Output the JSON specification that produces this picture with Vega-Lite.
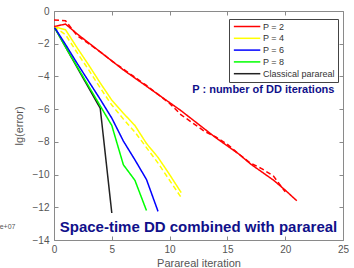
{
  "$schema": "https://vega.github.io/schema/vega-lite/v6.json",
  "width": 289,
  "height": 229,
  "autosize": "none",
  "padding": {"left": 54, "top": 11, "right": 11, "bottom": 28},
  "background": "white",
  "config": {
    "font": "Liberation Sans",
    "view": {"stroke": null},
    "axis": {
      "domainColor": "#8a8a8a",
      "tickColor": "#8a8a8a",
      "labelColor": "#555555",
      "titleColor": "#555555",
      "labelFontSize": 10,
      "titleFontSize": 11,
      "titleFontWeight": "normal",
      "grid": false,
      "tickSize": -4,
      "labelFlush": false,
      "labelOverlap": false
    }
  },
  "resolve": {"axis": {"x": "independent", "y": "independent"}},
  "layer": [
    {
      "data": {
        "values": [
          {"series": "P = 2", "style": "dashed", "x": 0, "y": -0.55},
          {"series": "P = 2", "style": "dashed", "x": 1, "y": -0.6},
          {"series": "P = 2", "style": "dashed", "x": 2, "y": -1.5},
          {"series": "P = 2", "style": "dashed", "x": 3, "y": -2.0},
          {"series": "P = 2", "style": "dashed", "x": 4, "y": -2.5},
          {"series": "P = 2", "style": "dashed", "x": 5, "y": -3.05},
          {"series": "P = 2", "style": "dashed", "x": 6, "y": -3.55},
          {"series": "P = 2", "style": "dashed", "x": 7, "y": -4.05},
          {"series": "P = 2", "style": "dashed", "x": 8, "y": -4.55},
          {"series": "P = 2", "style": "dashed", "x": 9, "y": -5.1},
          {"series": "P = 2", "style": "dashed", "x": 10, "y": -5.65},
          {"series": "P = 2", "style": "dashed", "x": 11, "y": -6.35},
          {"series": "P = 2", "style": "dashed", "x": 12, "y": -6.85},
          {"series": "P = 2", "style": "dashed", "x": 13, "y": -7.35},
          {"series": "P = 2", "style": "dashed", "x": 14, "y": -7.7},
          {"series": "P = 2", "style": "dashed", "x": 15, "y": -8.15},
          {"series": "P = 2", "style": "dashed", "x": 16, "y": -8.75},
          {"series": "P = 2", "style": "dashed", "x": 17, "y": -9.3},
          {"series": "P = 2", "style": "dashed", "x": 18, "y": -9.65},
          {"series": "P = 2", "style": "dashed", "x": 19, "y": -10.1},
          {"series": "P = 2", "style": "dashed", "x": 20, "y": -11.05},
          {"series": "P = 4", "style": "dashed", "x": 0, "y": -0.95},
          {"series": "P = 4", "style": "dashed", "x": 1, "y": -1.45},
          {"series": "P = 4", "style": "dashed", "x": 2, "y": -2.55},
          {"series": "P = 4", "style": "dashed", "x": 3, "y": -3.6},
          {"series": "P = 4", "style": "dashed", "x": 4, "y": -4.7},
          {"series": "P = 4", "style": "dashed", "x": 5, "y": -5.75},
          {"series": "P = 4", "style": "dashed", "x": 6, "y": -6.6},
          {"series": "P = 4", "style": "dashed", "x": 7, "y": -7.4},
          {"series": "P = 4", "style": "dashed", "x": 8, "y": -8.35},
          {"series": "P = 4", "style": "dashed", "x": 9, "y": -9.3},
          {"series": "P = 4", "style": "dashed", "x": 10, "y": -10.35},
          {"series": "P = 4", "style": "dashed", "x": 11, "y": -11.4},
          {"series": "Classical parareal", "style": "solid", "x": 0, "y": -0.95},
          {"series": "Classical parareal", "style": "solid", "x": 1, "y": -2.2},
          {"series": "Classical parareal", "style": "solid", "x": 2, "y": -3.45},
          {"series": "Classical parareal", "style": "solid", "x": 3, "y": -4.7},
          {"series": "Classical parareal", "style": "solid", "x": 4, "y": -5.95},
          {"series": "Classical parareal", "style": "solid", "x": 5, "y": -12.35},
          {"series": "P = 8", "style": "solid", "x": 0, "y": -0.95},
          {"series": "P = 8", "style": "solid", "x": 1, "y": -2.2},
          {"series": "P = 8", "style": "solid", "x": 2, "y": -3.4},
          {"series": "P = 8", "style": "solid", "x": 3, "y": -4.6},
          {"series": "P = 8", "style": "solid", "x": 4, "y": -5.8},
          {"series": "P = 8", "style": "solid", "x": 5, "y": -7.0},
          {"series": "P = 8", "style": "solid", "x": 6, "y": -9.4},
          {"series": "P = 8", "style": "solid", "x": 7, "y": -10.35},
          {"series": "P = 8", "style": "solid", "x": 8, "y": -12.2},
          {"series": "P = 6", "style": "solid", "x": 0, "y": -0.95},
          {"series": "P = 6", "style": "solid", "x": 1, "y": -2.05},
          {"series": "P = 6", "style": "solid", "x": 2, "y": -3.2},
          {"series": "P = 6", "style": "solid", "x": 3, "y": -4.3},
          {"series": "P = 6", "style": "solid", "x": 4, "y": -5.4},
          {"series": "P = 6", "style": "solid", "x": 5, "y": -6.55},
          {"series": "P = 6", "style": "solid", "x": 6, "y": -7.95},
          {"series": "P = 6", "style": "solid", "x": 7, "y": -9.1},
          {"series": "P = 6", "style": "solid", "x": 8, "y": -10.3},
          {"series": "P = 6", "style": "solid", "x": 9, "y": -12.25},
          {"series": "P = 4", "style": "solid", "x": 0, "y": -0.95},
          {"series": "P = 4", "style": "solid", "x": 1, "y": -1.15},
          {"series": "P = 4", "style": "solid", "x": 2, "y": -2.25},
          {"series": "P = 4", "style": "solid", "x": 3, "y": -3.3},
          {"series": "P = 4", "style": "solid", "x": 4, "y": -4.4},
          {"series": "P = 4", "style": "solid", "x": 5, "y": -5.45},
          {"series": "P = 4", "style": "solid", "x": 6, "y": -6.25},
          {"series": "P = 4", "style": "solid", "x": 7, "y": -7.0},
          {"series": "P = 4", "style": "solid", "x": 8, "y": -8.1},
          {"series": "P = 4", "style": "solid", "x": 9, "y": -8.95},
          {"series": "P = 4", "style": "solid", "x": 10, "y": -10.0},
          {"series": "P = 4", "style": "solid", "x": 11, "y": -11.1},
          {"series": "P = 2", "style": "solid", "x": 0, "y": -0.95},
          {"series": "P = 2", "style": "solid", "x": 1, "y": -0.8},
          {"series": "P = 2", "style": "solid", "x": 2, "y": -1.4},
          {"series": "P = 2", "style": "solid", "x": 3, "y": -1.95},
          {"series": "P = 2", "style": "solid", "x": 4, "y": -2.5},
          {"series": "P = 2", "style": "solid", "x": 5, "y": -3.05},
          {"series": "P = 2", "style": "solid", "x": 6, "y": -3.6},
          {"series": "P = 2", "style": "solid", "x": 7, "y": -4.1},
          {"series": "P = 2", "style": "solid", "x": 8, "y": -4.6},
          {"series": "P = 2", "style": "solid", "x": 9, "y": -5.1},
          {"series": "P = 2", "style": "solid", "x": 10, "y": -5.6},
          {"series": "P = 2", "style": "solid", "x": 11, "y": -6.1},
          {"series": "P = 2", "style": "solid", "x": 12, "y": -6.65},
          {"series": "P = 2", "style": "solid", "x": 13, "y": -7.2},
          {"series": "P = 2", "style": "solid", "x": 14, "y": -7.75},
          {"series": "P = 2", "style": "solid", "x": 15, "y": -8.25},
          {"series": "P = 2", "style": "solid", "x": 16, "y": -8.75},
          {"series": "P = 2", "style": "solid", "x": 17, "y": -9.35},
          {"series": "P = 2", "style": "solid", "x": 18, "y": -9.85},
          {"series": "P = 2", "style": "solid", "x": 19, "y": -10.35},
          {"series": "P = 2", "style": "solid", "x": 20, "y": -10.95},
          {"series": "P = 2", "style": "solid", "x": 21, "y": -11.6}
        ]
      },
      "mark": {"type": "line", "strokeWidth": 1.5, "clip": true},
      "encoding": {
        "x": {
          "field": "x", "type": "quantitative",
          "scale": {"domain": [0, 25], "nice": false, "zero": false},
          "axis": {"title": "Parareal iteration", "values": [0, 5, 10, 15, 20, 25], "labelPadding": 8, "titlePadding": 3}
        },
        "y": {
          "field": "y", "type": "quantitative",
          "scale": {"domain": [-14, 0], "nice": false, "zero": false},
          "axis": {"title": "lg(error)", "values": [-14, -12, -10, -8, -6, -4, -2, 0], "labelPadding": 9, "titlePadding": 8}
        },
        "color": {
          "field": "series", "type": "nominal",
          "scale": {
            "domain": ["P = 2", "P = 4", "P = 6", "P = 8", "Classical parareal"],
            "range": ["#ff0000", "#ffff00", "#0000ff", "#00ff00", "#222222"]
          },
          "legend": {
            "title": null,
            "orient": "none",
            "legendX": 175,
            "legendY": 8,
            "fillColor": "white",
            "strokeColor": "#444444",
            "padding": 3,
            "symbolType": "M-1,0H9",
            "symbolSize": 28,
            "symbolStrokeWidth": 1.5,
            "labelOffset": 22,
            "labelFontSize": 9,
            "labelColor": "#333333",
            "rowPadding": 1.8
          }
        },
        "strokeDash": {
          "field": "style", "type": "nominal",
          "scale": {"domain": ["solid", "dashed"], "range": [[1, 0], [5, 3]]},
          "legend": null
        }
      }
    },
    {
      "data": {"values": [{"label": "P : number of DD iterations"}]},
      "mark": {"type": "text", "align": "right", "baseline": "middle", "fontSize": 11, "fontWeight": "bold", "color": "#10108a", "font": "Liberation Sans"},
      "encoding": {
        "x": {"datum": 24.26, "type": "quantitative", "axis": {"orient": "top", "labels": false, "title": null, "values": [0, 5, 10, 15, 20, 25], "domain": true}},
        "y": {"datum": -4.83, "type": "quantitative", "axis": {"orient": "right", "labels": false, "title": null, "values": [-14, -12, -10, -8, -6, -4, -2, 0], "domain": true}},
        "text": {"field": "label"}
      }
    },
    {
      "data": {"values": [{"label": "Space-time DD combined with parareal"}]},
      "mark": {"type": "text", "align": "center", "baseline": "middle", "fontSize": 15, "fontWeight": "bold", "color": "#10108a", "font": "Liberation Sans"},
      "encoding": {
        "x": {"datum": 12.5, "type": "quantitative", "axis": null},
        "y": {"datum": -13.2, "type": "quantitative", "axis": null},
        "text": {"field": "label"}
      }
    },
    {
      "data": {"values": [{"label": "e+07"}]},
      "mark": {"type": "text", "align": "left", "baseline": "middle", "fontSize": 7, "color": "#555555", "font": "Liberation Sans", "clip": false},
      "encoding": {
        "x": {"datum": -4.7, "type": "quantitative", "axis": null},
        "y": {"datum": -13.2, "type": "quantitative", "axis": null},
        "text": {"field": "label"}
      }
    }
  ]
}
